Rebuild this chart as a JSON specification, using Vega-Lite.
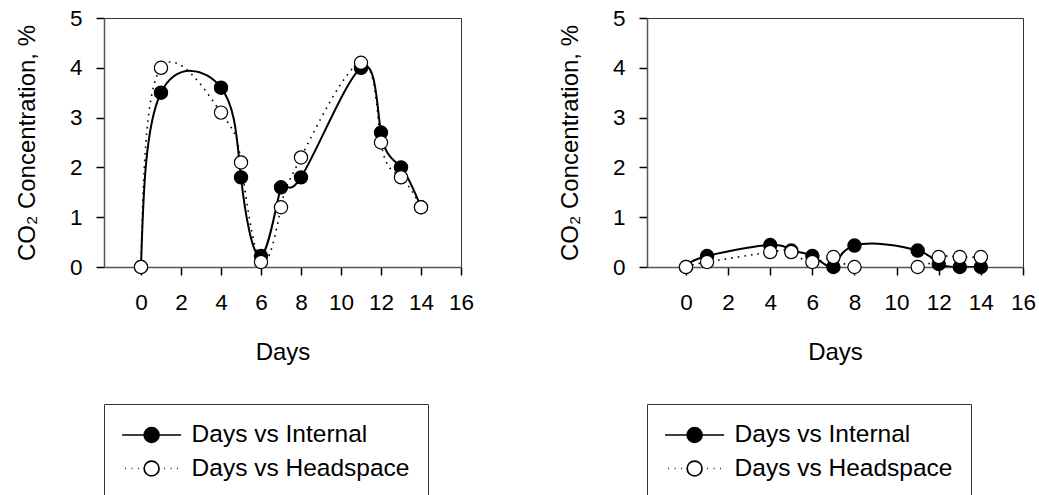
{
  "$schema": "https://vega.github.io/schema/vega-lite/v6.json",
  "background": "white",
  "padding": {"left": 14, "top": 6, "right": 0, "bottom": 0},
  "spacing": 82,
  "resolve": {
    "scale": {"fill": "independent", "color": "independent"},
    "legend": {"fill": "independent", "color": "independent"}
  },
  "config": {
    "font": "Liberation Sans",
    "view": {"stroke": "#333", "strokeWidth": 1},
    "axis": {
      "grid": false,
      "labelFont": "Liberation Sans",
      "labelFontSize": 22.5,
      "labelColor": "black",
      "titleFont": "Liberation Sans",
      "titleFontSize": 24,
      "titleFontWeight": "normal",
      "titleColor": "black",
      "domainColor": "#555",
      "domainWidth": 1.5,
      "tickColor": "black",
      "tickSize": 8,
      "tickWidth": 1.5,
      "labelFlush": false,
      "labelOverlap": false
    },
    "legend": {
      "orient": "bottom",
      "direction": "vertical",
      "offset": 39,
      "padding": 18,
      "rowPadding": 8.5,
      "labelOffset": 27,
      "symbolOffset": 16.6,
      "labelFont": "Liberation Sans",
      "labelFontSize": 24.5,
      "labelColor": "black",
      "labelLimit": 400,
      "strokeColor": "#333",
      "symbolSize": 576,
      "symbolStrokeWidth": 1.7,
      "symbolStrokeColor": "black",
      "symbolOpacity": 1
    }
  },
  "datasets": {
    "left": [
      {"Days": 0, "CO2": 0, "Series": "Days vs Internal"},
      {"Days": 1, "CO2": 3.5, "Series": "Days vs Internal"},
      {"Days": 4, "CO2": 3.6, "Series": "Days vs Internal"},
      {"Days": 5, "CO2": 1.8, "Series": "Days vs Internal"},
      {"Days": 6, "CO2": 0.22, "Series": "Days vs Internal"},
      {"Days": 7, "CO2": 1.6, "Series": "Days vs Internal"},
      {"Days": 8, "CO2": 1.8, "Series": "Days vs Internal"},
      {"Days": 11, "CO2": 4.0, "Series": "Days vs Internal"},
      {"Days": 12, "CO2": 2.7, "Series": "Days vs Internal"},
      {"Days": 13, "CO2": 2.0, "Series": "Days vs Internal"},
      {"Days": 14, "CO2": 1.2, "Series": "Days vs Internal"},
      {"Days": 0, "CO2": 0, "Series": "Days vs Headspace"},
      {"Days": 1, "CO2": 4.0, "Series": "Days vs Headspace"},
      {"Days": 4, "CO2": 3.1, "Series": "Days vs Headspace"},
      {"Days": 5, "CO2": 2.1, "Series": "Days vs Headspace"},
      {"Days": 6, "CO2": 0.1, "Series": "Days vs Headspace"},
      {"Days": 7, "CO2": 1.2, "Series": "Days vs Headspace"},
      {"Days": 8, "CO2": 2.2, "Series": "Days vs Headspace"},
      {"Days": 11, "CO2": 4.1, "Series": "Days vs Headspace"},
      {"Days": 12, "CO2": 2.5, "Series": "Days vs Headspace"},
      {"Days": 13, "CO2": 1.8, "Series": "Days vs Headspace"},
      {"Days": 14, "CO2": 1.2, "Series": "Days vs Headspace"}
    ],
    "right": [
      {"Days": 0, "CO2": 0, "Series": "Days vs Internal"},
      {"Days": 1, "CO2": 0.22, "Series": "Days vs Internal"},
      {"Days": 4, "CO2": 0.44, "Series": "Days vs Internal"},
      {"Days": 5, "CO2": 0.33, "Series": "Days vs Internal"},
      {"Days": 6, "CO2": 0.22, "Series": "Days vs Internal"},
      {"Days": 7, "CO2": 0, "Series": "Days vs Internal"},
      {"Days": 8, "CO2": 0.43, "Series": "Days vs Internal"},
      {"Days": 11, "CO2": 0.33, "Series": "Days vs Internal"},
      {"Days": 12, "CO2": 0.06, "Series": "Days vs Internal"},
      {"Days": 13, "CO2": 0, "Series": "Days vs Internal"},
      {"Days": 14, "CO2": 0, "Series": "Days vs Internal"},
      {"Days": 0, "CO2": 0, "Series": "Days vs Headspace"},
      {"Days": 1, "CO2": 0.1, "Series": "Days vs Headspace"},
      {"Days": 4, "CO2": 0.3, "Series": "Days vs Headspace"},
      {"Days": 5, "CO2": 0.3, "Series": "Days vs Headspace"},
      {"Days": 6, "CO2": 0.1, "Series": "Days vs Headspace"},
      {"Days": 7, "CO2": 0.2, "Series": "Days vs Headspace"},
      {"Days": 8, "CO2": 0, "Series": "Days vs Headspace"},
      {"Days": 11, "CO2": 0, "Series": "Days vs Headspace"},
      {"Days": 12, "CO2": 0.2, "Series": "Days vs Headspace"},
      {"Days": 13, "CO2": 0.2, "Series": "Days vs Headspace"},
      {"Days": 14, "CO2": 0.2, "Series": "Days vs Headspace"}
    ]
  },
  "hconcat": [
    {
      "width": 357,
      "height": 249,
      "data": {"name": "left"},
      "encoding": {
        "x": {"field": "Days", "type": "quantitative", "scale": {"domain": [-1.85, 16], "nice": false, "zero": false}, "axis": {"values": [0, 2, 4, 6, 8, 10, 12, 14, 16], "title": "Days", "labelPadding": 16, "titlePadding": 27}},
        "y": {"field": "CO2", "type": "quantitative", "scale": {"domain": [0, 5], "nice": false}, "axis": {"values": [0, 1, 2, 3, 4, 5], "title": "CO₂ Concentration, %", "labelPadding": 14, "titlePadding": 30}}
      },
      "layer": [
        {
          "transform": [{"filter": "datum.Series === 'Days vs Internal'"}],
          "mark": {"type": "line", "interpolate": "natural", "color": "black", "strokeWidth": 2, "clip": true},
          "encoding": {}
        },
        {
          "transform": [{"filter": "datum.Series === 'Days vs Headspace'"}],
          "mark": {"type": "line", "interpolate": "natural", "color": "black", "strokeWidth": 1.6, "strokeDash": [1.6, 5], "clip": true},
          "encoding": {}
        },
        {
          "mark": {"type": "point", "filled": true, "size": 175, "stroke": "black", "strokeWidth": 1.2, "opacity": 1},
          "encoding": {
            "color": {"field": "Series", "type": "nominal", "scale": {"domain": ["Days vs Headspace", "Days vs Internal"], "range": ["white", "black"]}, "legend": null}
          }
        },
        {
          "mark": {"type": "point", "filled": true, "size": 576, "strokeWidth": 1.7, "opacity": 0, "stroke": "black"},
          "encoding": {
            "fill": {"field": "Series", "type": "nominal", "scale": {"domain": ["Days vs Internal", "Days vs Headspace"], "range": ["black", "white"]}, "legend": {"title": null, "labelExpr": "datum.label + '  '", "encode": {"symbols": {"update": {"shape": {"signal": "datum.value === 'Days vs Internal' ? 'M-2.46,0L-0.62,0M0.62,0L2.46,0M0.62,0C0.62,0.341,0.341,0.62,0,0.62C-0.341,0.62,-0.62,0.341,-0.62,0C-0.62,-0.341,-0.341,-0.62,0,-0.62C0.341,-0.62,0.62,-0.341,0.62,0Z' : 'M-2.2,0L-2.13,0M-1.66,0L-1.59,0M-1.12,0L-1.05,0M1.05,0L1.12,0M1.59,0L1.66,0M2.13,0L2.2,0M0.62,0C0.62,0.341,0.341,0.62,0,0.62C-0.341,0.62,-0.62,0.341,-0.62,0C-0.62,-0.341,-0.341,-0.62,0,-0.62C0.341,-0.62,0.62,-0.341,0.62,0Z'"}, "stroke": {"value": "black"}, "strokeWidth": {"value": 1.7}, "opacity": {"value": 1}}}}}}
          }
        }
      ]
    },
    {
      "width": 376,
      "height": 249,
      "data": {"name": "right"},
      "encoding": {
        "x": {"field": "Days", "type": "quantitative", "scale": {"domain": [-1.85, 16], "nice": false, "zero": false}, "axis": {"values": [0, 2, 4, 6, 8, 10, 12, 14, 16], "title": "Days", "labelPadding": 16, "titlePadding": 27}},
        "y": {"field": "CO2", "type": "quantitative", "scale": {"domain": [0, 5], "nice": false}, "axis": {"values": [0, 1, 2, 3, 4, 5], "title": "CO₂ Concentration, %", "labelPadding": 14, "titlePadding": 30}}
      },
      "layer": [
        {
          "transform": [{"filter": "datum.Series === 'Days vs Internal'"}],
          "mark": {"type": "line", "interpolate": "natural", "color": "black", "strokeWidth": 2, "clip": true},
          "encoding": {}
        },
        {
          "transform": [{"filter": "datum.Series === 'Days vs Headspace'"}],
          "mark": {"type": "line", "interpolate": "natural", "color": "black", "strokeWidth": 1.6, "strokeDash": [1.6, 5], "clip": true},
          "encoding": {}
        },
        {
          "mark": {"type": "point", "filled": true, "size": 175, "stroke": "black", "strokeWidth": 1.2, "opacity": 1},
          "encoding": {
            "color": {"field": "Series", "type": "nominal", "scale": {"domain": ["Days vs Headspace", "Days vs Internal"], "range": ["white", "black"]}, "legend": null}
          }
        },
        {
          "mark": {"type": "point", "filled": true, "size": 576, "strokeWidth": 1.7, "opacity": 0, "stroke": "black"},
          "encoding": {
            "fill": {"field": "Series", "type": "nominal", "scale": {"domain": ["Days vs Internal", "Days vs Headspace"], "range": ["black", "white"]}, "legend": {"title": null, "labelExpr": "datum.label + '  '", "encode": {"symbols": {"update": {"shape": {"signal": "datum.value === 'Days vs Internal' ? 'M-2.46,0L-0.62,0M0.62,0L2.46,0M0.62,0C0.62,0.341,0.341,0.62,0,0.62C-0.341,0.62,-0.62,0.341,-0.62,0C-0.62,-0.341,-0.341,-0.62,0,-0.62C0.341,-0.62,0.62,-0.341,0.62,0Z' : 'M-2.2,0L-2.13,0M-1.66,0L-1.59,0M-1.12,0L-1.05,0M1.05,0L1.12,0M1.59,0L1.66,0M2.13,0L2.2,0M0.62,0C0.62,0.341,0.341,0.62,0,0.62C-0.341,0.62,-0.62,0.341,-0.62,0C-0.62,-0.341,-0.341,-0.62,0,-0.62C0.341,-0.62,0.62,-0.341,0.62,0Z'"}, "stroke": {"value": "black"}, "strokeWidth": {"value": 1.7}, "opacity": {"value": 1}}}}}}
          }
        }
      ]
    }
  ]
}
